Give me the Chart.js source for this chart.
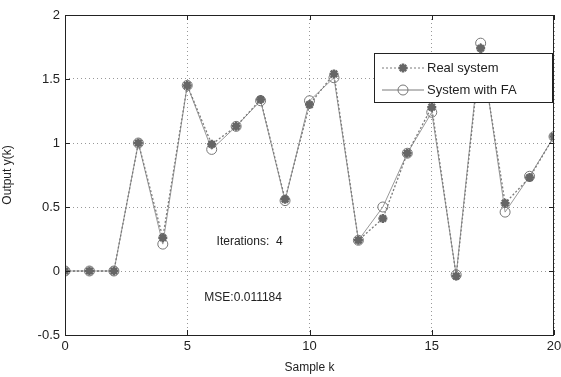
<!DOCTYPE html>
<html>
<head>
<meta charset="utf-8">
<script src="https://cdn.jsdelivr.net/npm/chart.js@4.4.1/dist/chart.umd.min.js"></script>
<style>
  html, body { margin: 0; padding: 0; background: #fff; }
  #wrap { width: 561px; height: 377px; }
</style>
</head>
<body>
<div id="wrap"><canvas id="c" width="561" height="377"></canvas></div>
<script>
// samples k = 0..20
const samples = [0, 1, 2, 3, 4, 5, 6, 7, 8, 9, 10, 11, 12, 13, 14, 15, 16, 17, 18, 19, 20];
const realSystem = [0, 0, 0, 1.0, 0.26, 1.45, 0.99, 1.13, 1.34, 0.56, 1.30, 1.54, 0.24, 0.41, 0.92, 1.28, -0.04, 1.74, 0.53, 0.73, 1.05];
const systemFA   = [0, 0, 0, 1.0, 0.21, 1.45, 0.95, 1.13, 1.33, 0.55, 1.33, 1.51, 0.24, 0.50, 0.92, 1.24, -0.03, 1.78, 0.46, 0.74, 1.05];
const seriesNames = ['Real system', 'System with FA'];
const yTicks = [-0.5, 0, 0.5, 1, 1.5, 2];
const xTicks = [0, 5, 10, 15, 20];
const notes = [
  { text: 'Iterations:  4', x: 6.2, y: 0.23 },
  { text: 'MSE:0.011184', x: 5.7, y: -0.21 }
];

const FONT = '"Liberation Sans", Arial, sans-serif';
const grey = '#7a7a7a';

// frame + inward ticks + notes + legend, matlab style
const extras = {
  id: 'extras',
  afterDatasetsDraw(chart) {
    const { ctx, chartArea: a, scales } = chart;
    ctx.save();
    ctx.strokeStyle = '#222';
    ctx.lineWidth = 1;
    ctx.strokeRect(a.left + 0.5, a.top + 0.5, a.right - a.left - 1, a.bottom - a.top);
    // little tick marks inside
    ctx.beginPath();
    yTicks.forEach(v => {
      const py = Math.round(scales.y.getPixelForValue(v)) + 0.5;
      ctx.moveTo(a.left, py); ctx.lineTo(a.left + 5, py);
      ctx.moveTo(a.right, py); ctx.lineTo(a.right - 5, py);
    });
    xTicks.forEach(v => {
      const px = Math.round(scales.x.getPixelForValue(v)) + 0.5;
      ctx.moveTo(px, a.bottom); ctx.lineTo(px, a.bottom - 5);
      ctx.moveTo(px, a.top); ctx.lineTo(px, a.top + 5);
    });
    ctx.stroke();

    // text notes
    ctx.fillStyle = '#222';
    ctx.font = '12px ' + FONT;
    ctx.textBaseline = 'middle';
    ctx.textAlign = 'left';
    notes.forEach(n => {
      ctx.fillText(n.text, scales.x.getPixelForValue(n.x), scales.y.getPixelForValue(n.y));
    });

    // legend box
    const bx = 374, by = 53, bw = 178, bh = 49;
    ctx.fillStyle = '#fff';
    ctx.fillRect(bx, by, bw, bh);
    ctx.strokeStyle = '#222';
    ctx.strokeRect(bx + 0.5, by + 0.5, bw, bh);
    const rows = [by + 15, by + 37];
    chart.data.datasets.forEach((ds, i) => {
      const ly = rows[i];
      ctx.strokeStyle = grey;
      ctx.lineWidth = 1;
      ctx.setLineDash(ds.borderDash || []);
      ctx.beginPath();
      ctx.moveTo(bx + 8, ly); ctx.lineTo(bx + 50, ly);
      ctx.stroke();
      ctx.setLineDash([]);
      ctx.lineWidth = ds.pointBorderWidth;
      ctx.strokeStyle = ds.pointBorderColor;
      ctx.fillStyle = ds.pointBackgroundColor;
      Chart.helpers.drawPoint(ctx, { pointStyle: ds.pointStyle, radius: ds.pointRadius, borderWidth: ds.pointBorderWidth }, bx + 29, ly);
      ctx.fillStyle = '#222';
      ctx.font = '13px ' + FONT;
      ctx.fillText(ds.label, bx + 53, ly);
    });
    ctx.restore();
  }
};

const ctx = document.getElementById('c').getContext('2d');
const chart = new Chart(ctx, {
  type: 'line',
  data: {
    labels: samples,
    datasets: [
      {
        label: seriesNames[0],
        data: samples.map((k, i) => ({ x: k, y: realSystem[i] })),
        borderColor: grey,
        borderWidth: 1.3,
        borderDash: [2, 2],
        pointStyle: 'star',
        pointRadius: 4.5,
        pointBorderWidth: 2.5,
        pointBorderColor: '#666',
        pointBackgroundColor: '#666',
        tension: 0,
        order: 1
      },
      {
        label: seriesNames[1],
        data: samples.map((k, i) => ({ x: k, y: systemFA[i] })),
        borderColor: '#999',
        borderWidth: 1,
        pointStyle: 'circle',
        pointRadius: 5,
        pointBorderWidth: 1,
        pointBorderColor: '#777',
        pointBackgroundColor: 'rgba(255,255,255,0)',
        tension: 0,
        order: 2
      }
    ]
  },
  options: {
    responsive: false,
    animation: false,
    layout: { padding: { top: 15, right: 0, left: 0, bottom: 0 } },
    plugins: {
      legend: { display: false },
      tooltip: { enabled: false }
    },
    scales: {
      x: {
        type: 'linear',
        min: 0, max: 20,
        afterBuildTicks: s => { s.ticks = xTicks.map(v => ({ value: v })); },
        afterFit: s => { s.height = 42; s.paddingRight = 5; s.paddingLeft = 0; },
        grid: { color: '#999', drawTicks: false },
        border: { display: false, dash: [1, 3] },
        ticks: { color: '#222', font: { family: FONT, size: 13 }, padding: 4, maxRotation: 0, callback: v => String(v) },
        title: { display: true, text: 'Sample k', color: '#222', font: { family: FONT, size: 12 }, padding: { top: 0, bottom: 2 } }
      },
      y: {
        min: -0.5, max: 2,
        afterBuildTicks: s => { s.ticks = yTicks.map(v => ({ value: v })); },
        afterFit: s => { s.width = 65; s.paddingTop = 0; s.paddingBottom = 0; },
        grid: { color: '#999', drawTicks: false },
        border: { display: false, dash: [1, 3] },
        ticks: { color: '#222', font: { family: FONT, size: 13 }, padding: 5, callback: v => String(v) },
        title: { display: true, text: 'Output y(k)', color: '#222', font: { family: FONT, size: 12 }, padding: { top: 0, bottom: 4 } }
      }
    }
  },
  plugins: [extras]
});
</script>
</body>
</html>
